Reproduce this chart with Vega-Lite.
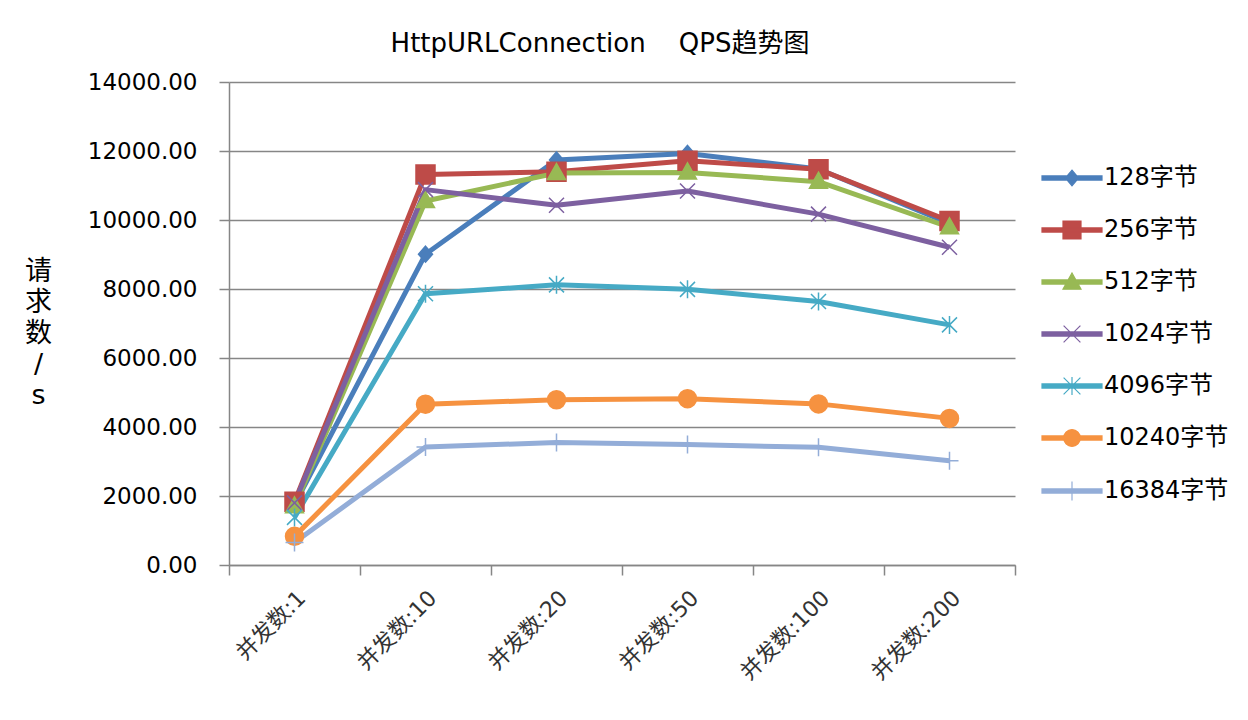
{
  "$schema": "https://vega.github.io/schema/vega-lite/v6.json",
  "width": 786,
  "height": 483,
  "autosize": {"type": "none"},
  "padding": {"left": 229, "top": 82, "right": 233, "bottom": 155},
  "background": "white",
  "title": {
    "text": "HttpURLConnection\u00a0\u00a0\u00a0\u00a0QPS趋势图",
    "fontSize": 26,
    "fontWeight": "normal",
    "color": "#000000",
    "anchor": "middle",
    "dx": -22,
    "offset": 14
  },
  "data": {
    "values": [
      {"s": "128字节", "c": "并发数:1", "v": 1750},
      {"s": "128字节", "c": "并发数:10", "v": 9010},
      {"s": "128字节", "c": "并发数:20", "v": 11740},
      {"s": "128字节", "c": "并发数:50", "v": 11930},
      {"s": "128字节", "c": "并发数:100", "v": 11480},
      {"s": "128字节", "c": "并发数:200", "v": 9900},
      {"s": "256字节", "c": "并发数:1", "v": 1830},
      {"s": "256字节", "c": "并发数:10", "v": 11320},
      {"s": "256字节", "c": "并发数:20", "v": 11400},
      {"s": "256字节", "c": "并发数:50", "v": 11720},
      {"s": "256字节", "c": "并发数:100", "v": 11470},
      {"s": "256字节", "c": "并发数:200", "v": 9970},
      {"s": "512字节", "c": "并发数:1", "v": 1700},
      {"s": "512字节", "c": "并发数:10", "v": 10550},
      {"s": "512字节", "c": "并发数:20", "v": 11360},
      {"s": "512字节", "c": "并发数:50", "v": 11380},
      {"s": "512字节", "c": "并发数:100", "v": 11110},
      {"s": "512字节", "c": "并发数:200", "v": 9790},
      {"s": "1024字节", "c": "并发数:1", "v": 1800},
      {"s": "1024字节", "c": "并发数:10", "v": 10880},
      {"s": "1024字节", "c": "并发数:20", "v": 10430},
      {"s": "1024字节", "c": "并发数:50", "v": 10840},
      {"s": "1024字节", "c": "并发数:100", "v": 10170},
      {"s": "1024字节", "c": "并发数:200", "v": 9210},
      {"s": "4096字节", "c": "并发数:1", "v": 1380},
      {"s": "4096字节", "c": "并发数:10", "v": 7860},
      {"s": "4096字节", "c": "并发数:20", "v": 8120},
      {"s": "4096字节", "c": "并发数:50", "v": 7990},
      {"s": "4096字节", "c": "并发数:100", "v": 7640},
      {"s": "4096字节", "c": "并发数:200", "v": 6960},
      {"s": "10240字节", "c": "并发数:1", "v": 830},
      {"s": "10240字节", "c": "并发数:10", "v": 4660},
      {"s": "10240字节", "c": "并发数:20", "v": 4790},
      {"s": "10240字节", "c": "并发数:50", "v": 4820},
      {"s": "10240字节", "c": "并发数:100", "v": 4670},
      {"s": "10240字节", "c": "并发数:200", "v": 4250},
      {"s": "16384字节", "c": "并发数:1", "v": 650},
      {"s": "16384字节", "c": "并发数:10", "v": 3420},
      {"s": "16384字节", "c": "并发数:20", "v": 3550},
      {"s": "16384字节", "c": "并发数:50", "v": 3490},
      {"s": "16384字节", "c": "并发数:100", "v": 3410},
      {"s": "16384字节", "c": "并发数:200", "v": 3020}
    ]
  },
  "encoding": {
    "x": {
      "field": "c",
      "type": "nominal",
      "sort": ["并发数:1", "并发数:10", "并发数:20", "并发数:50", "并发数:100", "并发数:200"],
      "bandPosition": 0.5,
      "scale": {"type": "band", "paddingInner": 0, "paddingOuter": 0},
      "title": null,
      "axis": {
        "labelAngle": -45,
        "tickBand": "extent",
        "tickSize": 10,
        "labelPadding": 12,
        "labelFontSize": 22,
        "labelColor": "#333333",
        "domainColor": "#868686",
        "tickColor": "#868686",
        "domainWidth": 1.5,
        "tickWidth": 1.5,
        "grid": false
      }
    },
    "y": {
      "field": "v",
      "type": "quantitative",
      "scale": {"domain": [0, 14000]},
      "title": ["请", "求", "数", "/", "s"],
      "axis": {
        "values": [0, 2000, 4000, 6000, 8000, 10000, 12000, 14000],
        "format": ".2f",
        "grid": true,
        "gridColor": "#868686",
        "gridWidth": 1.5,
        "domainColor": "#868686",
        "domainWidth": 1.5,
        "tickColor": "#868686",
        "tickWidth": 1.5,
        "tickSize": 10,
        "labelPadding": 22,
        "labelFontSize": 23,
        "labelColor": "#000000",
        "titleAngle": 0,
        "titleX": -191,
        "titleY": 176,
        "titleAlign": "center",
        "titleBaseline": "top",
        "titleFontSize": 27,
        "titleLineHeight": 31,
        "titleFontWeight": "normal",
        "titleColor": "#000000"
      }
    }
  },
  "layer": [
    {
      "mark": {"type": "line", "strokeWidth": 5, "strokeJoin": "round"},
      "encoding": {
        "color": {
          "field": "s",
          "type": "nominal",
          "scale": {
            "domain": ["128字节", "256字节", "512字节", "1024字节", "4096字节", "10240字节", "16384字节"],
            "range": ["#4A7EBB", "#BE4B48", "#98B954", "#7D60A0", "#46AAC5", "#F69240", "#93ADD8"]
          },
          "legend": null
        }
      }
    },
    {
      "mark": {"type": "point", "size": 100, "strokeWidth": 1.5, "opacity": 1},
      "encoding": {
        "shape": {
          "field": "s",
          "type": "nominal",
          "scale": {
            "domain": ["128字节", "256字节", "512字节", "1024字节", "4096字节", "10240字节", "16384字节"],
            "range": [
              "M0,-1.6L1.4,0L0,1.6L-1.4,0Z",
              "M-1.9,-1.9H1.9V1.9H-1.9Z",
              "M0,-1.9L1.8,1.3L-1.8,1.3Z",
              "M-1.5,-1.5L1.5,1.5M-1.5,1.5L1.5,-1.5",
              "M-1.5,-1.5L1.5,1.5M-1.5,1.5L1.5,-1.5M0,-1.8V1.8",
              "M-1.8,0A1.8,1.8,0,1,1,1.8,0A1.8,1.8,0,1,1,-1.8,0Z",
              "M0,-1.8V1.8M-1.8,0H1.8"
            ]
          },
          "legend": null
        },
        "fill": {
          "field": "s",
          "type": "nominal",
          "scale": {
            "domain": ["128字节", "256字节", "512字节", "1024字节", "4096字节", "10240字节", "16384字节"],
            "range": ["#4A7EBB", "#BE4B48", "#98B954", "#7D60A0", "#46AAC5", "#F69240", "#93ADD8"]
          },
          "legend": null
        },
        "stroke": {
          "field": "s",
          "type": "nominal",
          "scale": {
            "domain": ["128字节", "256字节", "512字节", "1024字节", "4096字节", "10240字节", "16384字节"],
            "range": ["#4A7EBB", "#BE4B48", "#98B954", "#7D60A0", "#46AAC5", "#F69240", "#93ADD8"]
          },
          "legend": null
        }
      }
    },
    {
      "mark": {"type": "point", "filled": true, "opacity": 0, "strokeWidth": 1.2},
      "encoding": {
        "shape": {
          "field": "s",
          "type": "nominal",
          "scale": {
            "domain": ["128字节", "256字节", "512字节", "1024字节", "4096字节", "10240字节", "16384字节"],
            "range": [
              "M-5,-0.35H5V0.35H-5Z M0,-1.3L1.1,0L0,1.3L-1.1,0Z",
              "M-5,-0.35H5V0.35H-5Z M-1.5,-1.5H1.5V1.5H-1.5Z",
              "M-5,-0.35H5V0.35H-5Z M0,-1.5L1.5,1.2L-1.5,1.2Z",
              "M-5,-0.35H5V0.35H-5Z M-1.4,-1.4L1.4,1.4M-1.4,1.4L1.4,-1.4",
              "M-5,-0.35H5V0.35H-5Z M-1.4,-1.4L1.4,1.4M-1.4,1.4L1.4,-1.4M0,-1.5V1.5",
              "M-5,-0.35H5V0.35H-5Z M-1.4,0A1.4,1.4,0,1,1,1.4,0A1.4,1.4,0,1,1,-1.4,0Z",
              "M-5,-0.35H5V0.35H-5Z M0,-1.6V1.6"
            ]
          },
          "legend": {
            "title": null,
            "orient": "none",
            "legendX": 808,
            "legendY": 84,
            "padding": 0,
            "symbolSize": 144,
            "symbolOffset": 23,
            "labelOffset": 20,
            "labelFontSize": 24,
            "labelColor": "#000000",
            "rowPadding": 28,
            "symbolOpacity": 1,
            "symbolStrokeWidth": 1.2
          }
        },
        "color": {
          "field": "s",
          "type": "nominal",
          "scale": {
            "domain": ["128字节", "256字节", "512字节", "1024字节", "4096字节", "10240字节", "16384字节"],
            "range": ["#4A7EBB", "#BE4B48", "#98B954", "#7D60A0", "#46AAC5", "#F69240", "#93ADD8"]
          },
          "legend": {"title": null}
        },
        "stroke": {
          "field": "s",
          "type": "nominal",
          "scale": {
            "domain": ["128字节", "256字节", "512字节", "1024字节", "4096字节", "10240字节", "16384字节"],
            "range": ["#4A7EBB", "#BE4B48", "#98B954", "#7D60A0", "#46AAC5", "#F69240", "#93ADD8"]
          },
          "legend": {"title": null}
        }
      }
    }
  ],
  "resolve": {"scale": {"shape": "independent", "color": "independent", "stroke": "independent"}},
  "config": {
    "view": {"stroke": null},
    "font": "DejaVu Sans, Noto Sans CJK SC"
  }
}
